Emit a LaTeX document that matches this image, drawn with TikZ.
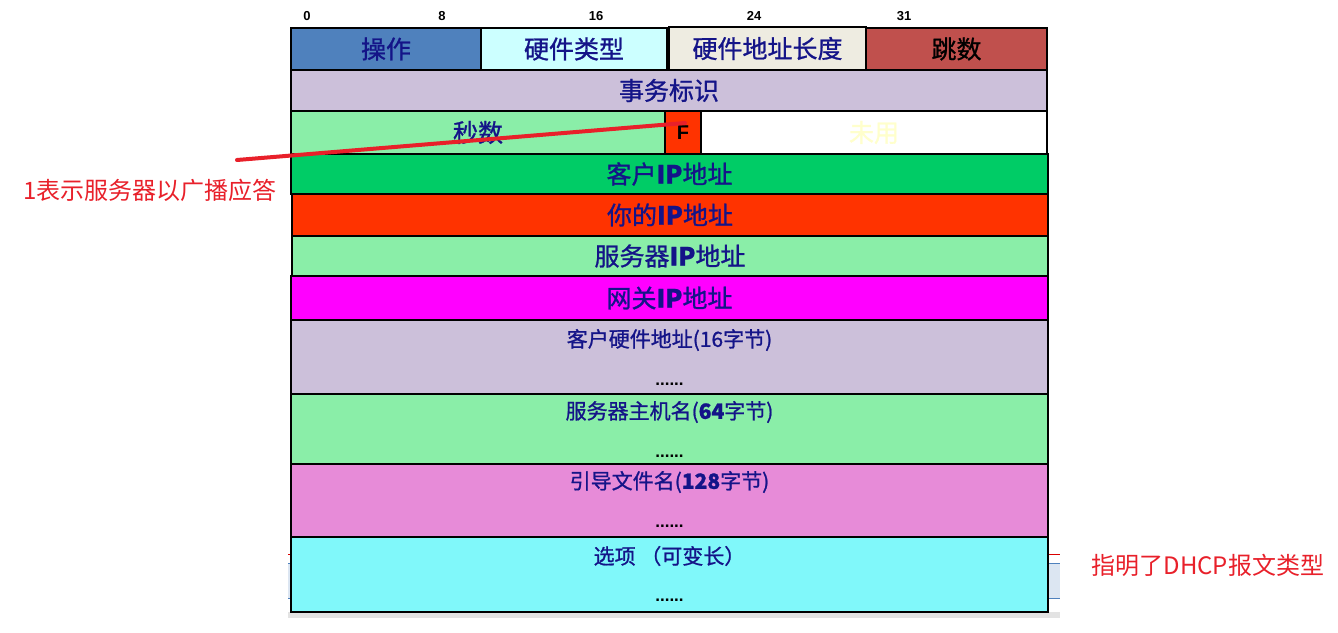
\documentclass[tikz,border=0pt]{standalone}
\usepackage{fontspec}
\usetikzlibrary{calc}
\newfontfamily\cjk[FakeBold=1]{Noto Sans CJK SC}
\newfontfamily\cjkplain{Noto Sans CJK SC}
\newfontfamily\numfont[BoldFont={Liberation Sans Bold}]{Liberation Sans}
\definecolor{opblue}{HTML}{4F81BD}
\definecolor{hwcyan}{HTML}{CCFFFF}
\definecolor{hwlen}{HTML}{EEECE1}
\definecolor{hopred}{HTML}{C0504D}
\definecolor{lav}{HTML}{CCC0DA}
\definecolor{lgreen}{HTML}{8AEEA8}
\definecolor{fred}{HTML}{FF3300}
\definecolor{cgreen}{HTML}{00CC66}
\definecolor{mag}{HTML}{FF00FF}
\definecolor{pinkf}{HTML}{E78BD8}
\definecolor{cyanf}{HTML}{80F8FA}
\definecolor{navy}{HTML}{141488}
\definecolor{paleyel}{HTML}{FFFFCC}
\definecolor{annred}{HTML}{E8202A}
\definecolor{bgblue}{HTML}{DCE6F2}
\definecolor{bggray}{HTML}{E3E3E3}
\tikzset{
  fieldbox/.style={draw=black, line width=1.4pt, rectangle, anchor=north west, inner sep=0pt, outer sep=0pt},
  bigtxt/.style={font=\cjk\fontsize{25}{28}\selectfont, text=navy},
  midtxt/.style={font=\cjk\fontsize{21}{24}\selectfont, text=navy},
  dotstxt/.style={font=\numfont\bfseries\fontsize{17}{18}\selectfont, text=black},
  numtxt/.style={font=\numfont\bfseries\fontsize{13}{14}\selectfont, text=black},
  anntxt/.style={font=\cjkplain\fontsize{24}{28}\selectfont, text=annred},
}
\begin{document}
\begin{tikzpicture}[x=1pt,y=-1pt]
\useasboundingbox (0,0) rectangle (1338,632);
% background slide remnants
\fill[bggray] (288,612) rectangle (1060,618);
\fill[bgblue] (288,563) rectangle (1060,598);
\draw[opblue, line width=1pt] (288,563) -- (1060,563);
\draw[opblue, line width=1pt] (288,598) -- (1060,598);
\draw[red!85!black, line width=1pt] (288,554) -- (1060,554);
% header bit numbers
\node[numtxt] (n0) at (307,16) {0};
\node[numtxt] (n8) at (442,16) {8};
\node[numtxt] (n16) at (596,16) {16};
\node[numtxt] (n24) at (754,16) {24};
\node[numtxt] (n31) at (904,16) {31};
% row 1
\node[fieldbox, fill=opblue, minimum width=190pt, minimum height=42pt, bigtxt] (op) at (291,28) {操作};
\node[fieldbox, fill=hwcyan, minimum width=186pt, minimum height=42pt, bigtxt] (htype) at (481,28) {硬件类型};
\node[fieldbox, fill=hwlen, minimum width=197pt, minimum height=43pt, bigtxt] (hlen) at (669,27) {硬件地址长度};
\node[fieldbox, fill=hopred, minimum width=181pt, minimum height=42pt, bigtxt, text=black] (hops) at (866,28) {跳数};
% row 2
\node[fieldbox, fill=lav, minimum width=756pt, minimum height=41pt, bigtxt] (xid) at (291,70) {事务标识};
% row 3
\node[fieldbox, fill=lgreen, minimum width=374pt, minimum height=43pt, bigtxt] (secs) at (291,111) {秒数};
\node[fieldbox, fill=fred, minimum width=36pt, minimum height=43pt, font=\numfont\bfseries\fontsize{20}{22}\selectfont] (flag) at (665,111) {F};
\node[fieldbox, fill=white, minimum width=346pt, minimum height=43pt, bigtxt, text=paleyel] (unused) at (701,111) {未用};
% rows 4-7
\node[fieldbox, fill=cgreen, minimum width=757pt, minimum height=40pt, bigtxt] (ciaddr) at (291,154) {客户\textbf{IP}地址};
\node[fieldbox, fill=fred, minimum width=756pt, minimum height=42pt, bigtxt] (yiaddr) at (292,194) {你的\textbf{IP}地址};
\node[fieldbox, fill=lgreen, minimum width=756pt, minimum height=40pt, bigtxt] (siaddr) at (292,236) {服务器\textbf{IP}地址};
\node[fieldbox, fill=mag, minimum width=757pt, minimum height=44pt, bigtxt] (giaddr) at (291,276) {网关\textbf{IP}地址};
% rows 8-11
\node[fieldbox, fill=lav, minimum width=757pt, minimum height=74pt] (chaddr) at (291,320) {};
\node[fieldbox, fill=lgreen, minimum width=757pt, minimum height=70pt] (sname) at (291,394) {};
\node[fieldbox, fill=pinkf, minimum width=757pt, minimum height=73pt] (file) at (291,464) {};
\node[fieldbox, fill=cyanf, minimum width=757pt, minimum height=75pt] (opts) at (291,537) {};
\node[midtxt] (chaddrT) at ($(chaddr.north)+(0,20)$) {客户硬件地址(16字节)};
\node[dotstxt] (chaddrD) at ($(chaddr.south)+(0,-10)$) {......};
\node[midtxt] (snameT) at ($(sname.north)+(0,18)$) {服务器主机名(\textbf{64}字节)};
\node[dotstxt] (snameD) at ($(sname.south)+(0,-8)$) {......};
\node[midtxt] (fileT) at ($(file.north)+(0,18)$) {引导文件名(\textbf{128}字节)};
\node[dotstxt] (fileD) at ($(file.south)+(0,-11)$) {......};
\node[midtxt] (optsT) at ($(opts.north)+(0,19)$) {选项\ （可变长）};
\node[dotstxt] (optsD) at ($(opts.south)+(0,-12)$) {......};
% annotations
\node[anntxt, anchor=west] (ann1) at (20,190) {1表示服务器以广播应答};
\node[anntxt, anchor=west] (ann2) at (1088,565) {指明了DHCP报文类型};
\coordinate (lstart) at (237,160);
\coordinate (lend) at ($(flag.north west)+(20,12)$);
\draw[annred, line width=4pt, line cap=round] (lstart) -- (lend);
\end{tikzpicture}
\end{document}
